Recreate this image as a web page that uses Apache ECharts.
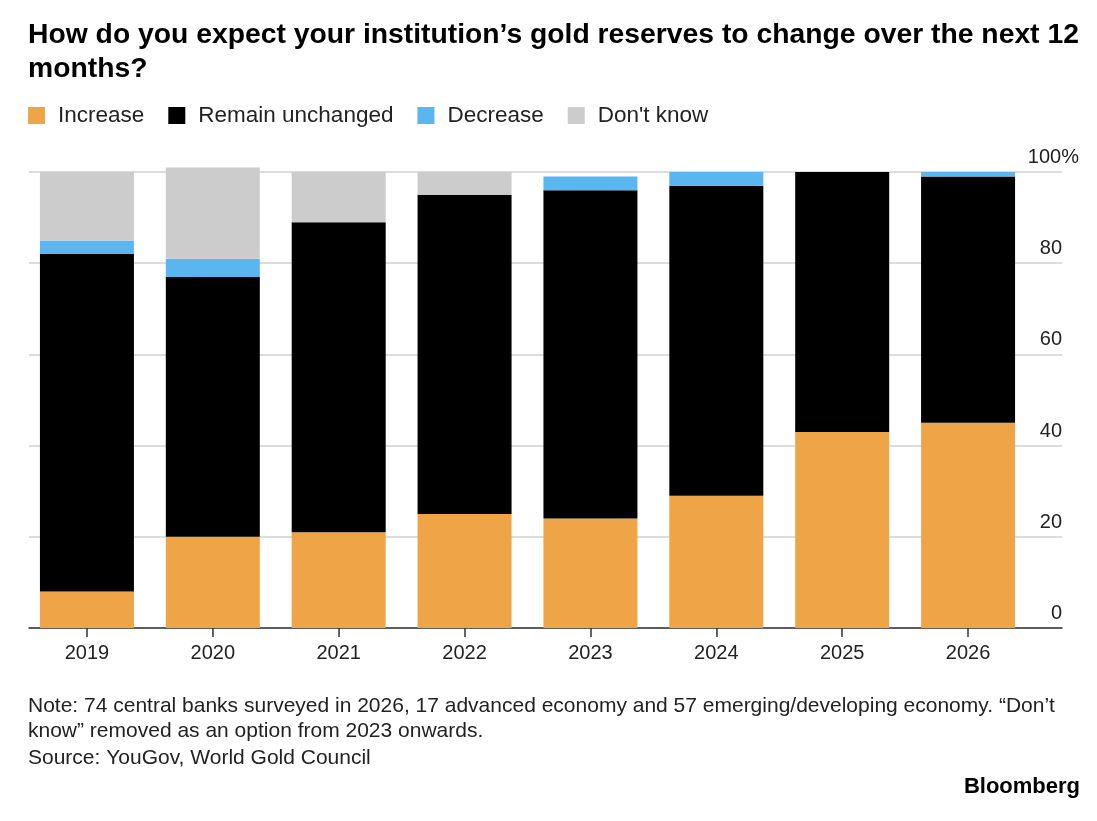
<!DOCTYPE html>
<html>
<head>
<meta charset="utf-8">
<script src="https://cdn.jsdelivr.net/npm/echarts@6/dist/echarts.min.js"></script>
<style>
  html, body { margin: 0; padding: 0; background: #fff; }
  #chart { width: 1097px; height: 821px; }
</style>
</head>
<body>
<div id="chart"></div>
<script>
// survey years
const years = ['2019', '2020', '2021', '2022', '2023', '2024', '2025', '2026']

// share of central banks, %
const increase = [8, 20, 21, 25, 24, 29, 43, 45]
const remain = [74, 57, 68, 70, 72, 68, 57, 54]
const decrease = [3, 4, 0, 0, 3, 3, 0, 1]
const dontKnow = [15, 20, 11, 5, 0, 0, 0, 0]

const FONT = '"Liberation Sans", Arial, sans-serif'

const chart = echarts.init(document.getElementById('chart'))

function bar(name, data, color) {
    return {
        name: name,
        type: 'bar',
        stack: 'all',
        xAxisIndex: 1,
        yAxisIndex: 1,
        barWidth: 94,
        clip: false,
        itemStyle: { color: color },
        emphasis: { disabled: true },
        data: data
    }
}

chart.setOption({
    animation: false,
    backgroundColor: '#fff',
    textStyle: { fontFamily: FONT },
    title: {
        text: 'How do you expect your institution’s gold reserves to change over the next 12\nmonths?',
        left: 28,
        top: 18,
        padding: 0,
        textStyle: { fontSize: 28.3, fontWeight: 'bold', color: '#000', lineHeight: 34, fontFamily: FONT }
    },
    legend: {
        left: 28,
        top: 104,
        padding: 0,
        icon: 'rect',
        itemWidth: 17,
        itemHeight: 17,
        itemGap: 24,
        textStyle: { fontSize: 22.5, color: '#222', padding: [0, 0, 0, 8] },
        data: ['Increase', 'Remain unchanged', 'Decrease', "Don't know"],
        selectedMode: false
    },
    grid: [
        { left: 29, right: 35, top: 172, bottom: 193 },
        { left: 24, right: 66, top: 172, bottom: 193 }
    ],
    xAxis: [
        {
            gridIndex: 0, type: 'value', min: 0, max: 1,
            axisLine: { show: true, lineStyle: { color: '#333', width: 1.5 } },
            axisTick: { show: false }, axisLabel: { show: false }, splitLine: { show: false }
        },
        {
            gridIndex: 1, type: 'category', data: years,
            axisLine: { show: false },
            axisTick: { show: true, alignWithLabel: true, length: 9, lineStyle: { color: '#333', width: 1.5 } },
            axisLabel: { fontSize: 20, color: '#222', margin: 15 }
        }
    ],
    yAxis: [
        {
            gridIndex: 0, type: 'value', position: 'right', min: 0, max: 100, interval: 20,
            axisLine: { show: false }, axisTick: { show: false },
            splitLine: { lineStyle: { color: '#d0d0d0', width: 1.5 } },
            axisLabel: {
                margin: 17,
                align: 'right',
                verticalAlign: 'bottom',
                formatter: function (v) {
                    return v === 100 ? '{a|' + v + '%}' : '{b|' + v + '}'
                },
                rich: {
                    a: { fontSize: 20, lineHeight: 20, color: '#222', padding: [0, 0, 9, 0], fontFamily: FONT },
                    b: { fontSize: 20, lineHeight: 20, color: '#222', padding: [0, 17, 9, 0], fontFamily: FONT }
                }
            }
        },
        { gridIndex: 1, type: 'value', min: 0, max: 100, show: false }
    ],
    graphic: [
        {
            type: 'text', left: 28, top: 694,
            style: {
                text: 'Note: 74 central banks surveyed in 2026, 17 advanced economy and 57 emerging/developing economy. “Don’t\nknow” removed as an option from 2023 onwards.',
                font: '21px ' + FONT, fill: '#222', lineHeight: 25
            }
        },
        {
            type: 'text', left: 28, top: 746,
            style: { text: 'Source: YouGov, World Gold Council', font: '21px ' + FONT, fill: '#222', lineHeight: 25 }
        },
        {
            type: 'text', right: 17, top: 776,
            style: { text: 'Bloomberg', font: 'bold 22px ' + FONT, fill: '#000' }
        }
    ],
    series: [
        bar('Increase', increase, '#F0A448'),
        bar('Remain unchanged', remain, '#000000'),
        bar('Decrease', decrease, '#5BB6EF'),
        bar("Don't know", dontKnow, '#CCCCCC')
    ]
})
</script>
</body>
</html>
